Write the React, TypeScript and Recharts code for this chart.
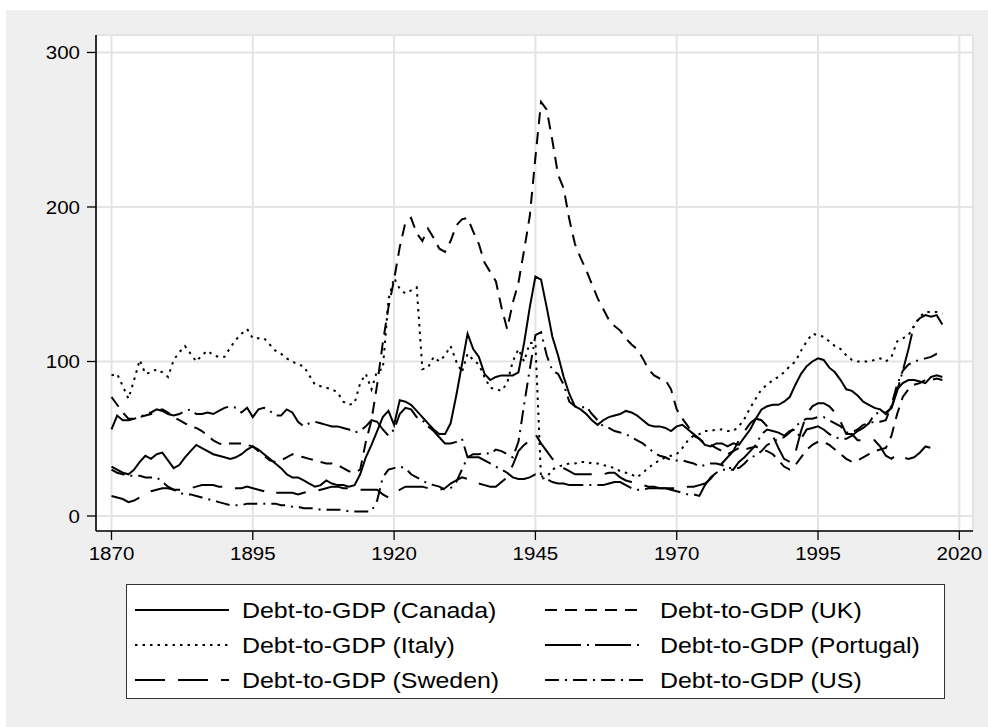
import React from 'react';
import { LineChart, Line, XAxis, YAxis, CartesianGrid } from 'recharts';

// debt-to-GDP ratios, one value per year from 1870 to 2017
const START_YEAR = 1870;

const canada = [
  32, 30, 28, 27, 30, 35, 39, 37, 40, 41,
  36, 31, 33, 38, 42, 46, 44, 42, 40, 39,
  38, 37, 38, 40, 43, 45, 43, 40, 37, 34,
  31, 27, 25, 25, 23, 21, 19, 20, 23, 21,
  20, 20, 19, 20, 27, 38, 46, 55, 64, 68,
  59, 75, 74, 72, 68, 64, 60, 56, 53, 53,
  60, 78, 98, 118, 108, 103, 92, 88, 90, 91,
  91, 91, 93, 112, 135, 155, 153, 135, 116, 104,
  90, 79, 71, 69, 66, 62, 59, 62, 64, 65,
  66, 68, 67, 65, 62, 59, 58, 58, 57, 55,
  58, 59, 56, 53, 50, 46, 45, 47, 47, 45,
  47, 46, 51, 56, 63, 69, 71, 72, 72, 74,
  77, 85, 92, 97, 100, 102, 101, 96, 93, 88,
  82, 81, 78, 74, 72, 70, 69, 66, 70, 82,
  86, 88, 88, 87, 86, 90, 91, 90,
];

const uk = [
  77, 72, 67, 63, 63, 64, 65, 66, 68, 69,
  67, 64, 62, 60, 58, 57, 55, 52, 49, 47,
  46, 47, 47, 47, 46, 45, 42, 39, 36, 35,
  36, 38, 40, 39, 38, 37, 36, 35, 34, 34,
  33, 31, 29, 28, 30, 48, 62, 85, 112, 135,
  153, 174, 190, 193, 183, 178, 186, 180, 173, 171,
  178, 188, 192, 193, 184, 176, 164, 158, 152, 135,
  121, 138, 151, 172, 194, 232, 268, 263, 243, 221,
  212, 192, 176, 167, 159, 150, 141, 134, 127, 123,
  120, 115, 111, 108, 102, 95, 91, 89, 88, 82,
  69, 63, 58, 52, 50, 47, 46, 44, 42, 40,
  42, 44, 43, 44, 45, 43, 42, 40, 36, 32,
  30, 33, 38, 43, 46, 48, 48, 46, 43, 40,
  37, 35, 36, 38, 40, 42, 43, 44, 52, 66,
  77, 82, 85, 86, 88, 88, 89, 88,
];

const italy = [
  91, 92, 84, 76, 88, 101, 92, 93, 95, 93,
  90, 101, 106, 110, 105, 100, 104, 107, 104, 103,
  103, 109, 114, 118, 121, 115, 115, 115, 111, 107,
  105, 102, 100, 98, 97, 91, 85, 84, 83, 82,
  80, 74, 72, 73, 86, 92, 82, 94, 95, 140,
  154, 147, 144, 146, 148, 95, 96, 103, 100, 104,
  110, 100, 93, 105, 101, 98, 90, 83, 82, 81,
  86, 100, 108, 100, 112, 112, 24, 25, 30, 32,
  33, 34, 34, 35, 35, 34, 34, 33, 32, 31,
  29, 28, 27, 25, 28, 31, 34, 36, 38, 39,
  40, 44, 49, 52, 53, 55, 55, 56, 56, 55,
  55, 58, 63, 70, 76, 82, 85, 88, 90, 93,
  97, 100, 107, 113, 118, 117, 116, 113, 110, 108,
  104, 101, 100, 100, 100, 101, 102, 100, 103, 113,
  115, 117, 123, 129, 132, 132, 132, 131,
];

const portugal = [
  56, 65, 62, 62, 63, 64, 66, 67, 69, 68,
  66, 65, 66, 68, 69, 66, 66, 67, 66, 68,
  70, 71, 70, 67, 70, 64, 69, 70, 68, 65,
  65, 69, 67, 61, 58, 60, 61, 60, 59, 58,
  58, 57, 56, 54, 55, 58, 62, 61, 56, 52,
  56, 66, 70, 69, 64, 62, 58, 55, 51, 47,
  47, 48, 50, 38, 38, 38, 36, 34, 32, 30,
  28, 25, 24, 24, 25, 27, 26, 24, 22, 21,
  21, 20, 20, 20, 20, 20, 20, 20, 21, 22,
  22, 20, 18, 17, 17, 18, 18, 18, 18, 17,
  16, 15, 14, 14, 13, 20, 25, 28, 30, 30,
  30, 35, 38, 42, 46, 53, 56, 55, 54, 52,
  55, 56, 50, 56, 57, 58, 56, 53, 51, 50,
  50, 52, 55, 57, 60, 66, 67, 67, 70, 81,
  94, 108, 124, 128, 130, 129, 130, 124,
];

const sweden = [
  13, 12, 11, 9, 10, 12, 14, 16, 17, 18,
  18, 17, 17, 17, 18, 19, 20, 20, 20, 19,
  19, 18, 18, 18, 19, 18, 17, 16, 14, 15,
  15, 15, 15, 14, 15, 16, 16, 17, 18, 19,
  19, 18, 18, 17, 17, 17, 17, 17, 14, 12,
  14, 17, 19, 19, 19, 19, 18, 18, 17, 18,
  21, 23, 25, 24, 22, 21, 20, 19, 19, 22,
  25, 33, 42, 46, 49, 53, 47, 42, 37, 34,
  31, 29, 27, 27, 27, 27, 27, 27, 28, 28,
  25, 23, 22, 21, 20, 19, 19, 18, 18, 18,
  18, 18, 19, 19, 20, 21, 24, 29, 34, 38,
  42, 49, 55, 60, 63, 62, 58, 52, 44, 37,
  35, 41, 55, 66, 71, 73, 73, 71, 67, 61,
  53, 53, 49, 49, 49, 49, 45, 39, 37, 40,
  38, 37, 38, 41, 45, 44, 42, 41,
];

const us = [
  30, 28, 27, 26, 26, 26, 25, 25, 25, 22,
  19, 17, 15, 14, 14, 13, 12, 11, 10, 9,
  8, 7, 7, 7, 8, 8, 8, 8, 8, 8,
  7, 7, 6, 6, 5, 5, 5, 4, 4, 4,
  4, 4, 3, 3, 3, 3, 3, 10, 25, 30,
  31, 32, 31, 27, 25, 23, 21, 20, 19, 17,
  18, 22, 30, 38, 40, 40, 41, 40, 43, 42,
  40, 38, 48, 72, 95, 117, 119, 104, 94, 92,
  85, 74, 71, 70, 71, 66, 62, 58, 57, 55,
  54, 53, 51, 49, 47, 44, 41, 39, 38, 36,
  36, 36, 35, 34, 32, 33, 34, 34, 33, 31,
  31, 31, 34, 38, 39, 42, 46, 48, 50, 51,
  54, 58, 61, 63, 63, 64, 64, 62, 60, 58,
  54, 54, 56, 59, 60, 61, 61, 62, 72, 85,
  94, 98, 100, 101, 102, 103, 105, 105,
];

const xTicks = [1870, 1895, 1920, 1945, 1970, 1995, 2020];
const yTicks = [0, 100, 200, 300];

const series = [
  { key: 'canada', name: 'Debt-to-GDP (Canada)', dash: undefined },
  { key: 'uk', name: 'Debt-to-GDP (UK)', dash: '12 8' },
  { key: 'italy', name: 'Debt-to-GDP (Italy)', dash: '2.5 5' },
  { key: 'portugal', name: 'Debt-to-GDP (Portugal)', dash: '36 6 2 6' },
  { key: 'sweden', name: 'Debt-to-GDP (Sweden)', dash: '30 13' },
  { key: 'us', name: 'Debt-to-GDP (US)', dash: '14 6 2 6' },
];

const data = canada.map((_, i) => ({
  year: START_YEAR + i,
  canada: canada[i],
  uk: uk[i],
  italy: italy[i],
  portugal: portugal[i],
  sweden: sweden[i],
  us: us[i],
}));

const FONT = '"Liberation Sans", Arial, sans-serif';

const XTick = ({ x, y, payload }: any) => (
  <g transform={`translate(${x},${y}) scale(1.08,1)`}>
    <text x={0} y={0} dy="0.71em" textAnchor="middle" fontSize={19} fontFamily={FONT} fill="#000">
      {payload.value}
    </text>
  </g>
);

const YTick = ({ x, y, payload }: any) => (
  <g transform={`translate(${x},${y}) scale(1.08,1)`}>
    <text x={0} y={0} dy="0.355em" textAnchor="end" fontSize={19} fontFamily={FONT} fill="#000">
      {payload.value}
    </text>
  </g>
);

function LegendBox() {
  const rows = [26, 61, 96];
  const cols = [
    { x1: 9, x2: 103, tx: 116 },
    { x1: 419, x2: 518, tx: 534 },
  ];
  return (
    <div style={{ position: 'absolute', left: 126, top: 584, width: 819, height: 115 }}>
      <svg width={819} height={115} style={{ display: 'block' }}>
        <rect x={0.5} y={0.5} width={818} height={114} fill="#fff" stroke="#333" strokeWidth={1} />
        {series.map((s, i) => {
          const c = cols[i % 2];
          const ry = rows[Math.floor(i / 2)];
          return (
            <g key={s.key}>
              <line x1={c.x1} x2={c.x2} y1={ry} y2={ry} stroke="#000" strokeWidth={2} strokeDasharray={s.dash} />
              <g transform={`translate(${c.tx},${ry}) scale(1.16,1)`}>
                <text x={0} y={0} dy="0.355em" fontSize={21.5} fontFamily={FONT} fill="#000">
                  {s.name}
                </text>
              </g>
            </g>
          );
        })}
      </svg>
    </div>
  );
}

export default function App() {
  return (
    <div style={{ position: 'absolute', left: 6, top: 10, width: 982, height: 717, background: '#efefef' }}>
      <LineChart width={982} height={717} data={data} margin={{ top: 25, right: 15, bottom: 156, left: 10 }}>
        <CartesianGrid stroke="#e4e4e4" strokeWidth={2} fill="#fff" />
        <XAxis
          dataKey="year"
          type="number"
          domain={[1867.26, 2022.42]}
          ticks={xTicks}
          allowDataOverflow
          height={40}
          tickSize={9}
          tickMargin={7}
          tick={<XTick />}
          axisLine={{ stroke: '#000', strokeWidth: 1.6 }}
          tickLine={{ stroke: '#000', strokeWidth: 1.3 }}
        />
        <YAxis
          type="number"
          domain={[-9.7, 311.3]}
          ticks={yTicks}
          allowDataOverflow
          width={80}
          tickSize={9}
          tickMargin={7}
          tick={<YTick />}
          axisLine={{ stroke: '#000', strokeWidth: 1.6 }}
          tickLine={{ stroke: '#000', strokeWidth: 1.3 }}
        />
        {series.map((s) => (
          <Line
            key={s.key}
            dataKey={s.key}
            name={s.name}
            type="linear"
            stroke="#000"
            strokeWidth={2}
            strokeDasharray={s.dash}
            dot={false}
            activeDot={false}
            isAnimationActive={false}
          />
        ))}
      </LineChart>
      <div style={{ position: 'absolute', left: -6, top: -10 }}>
        <LegendBox />
      </div>
    </div>
  );
}
